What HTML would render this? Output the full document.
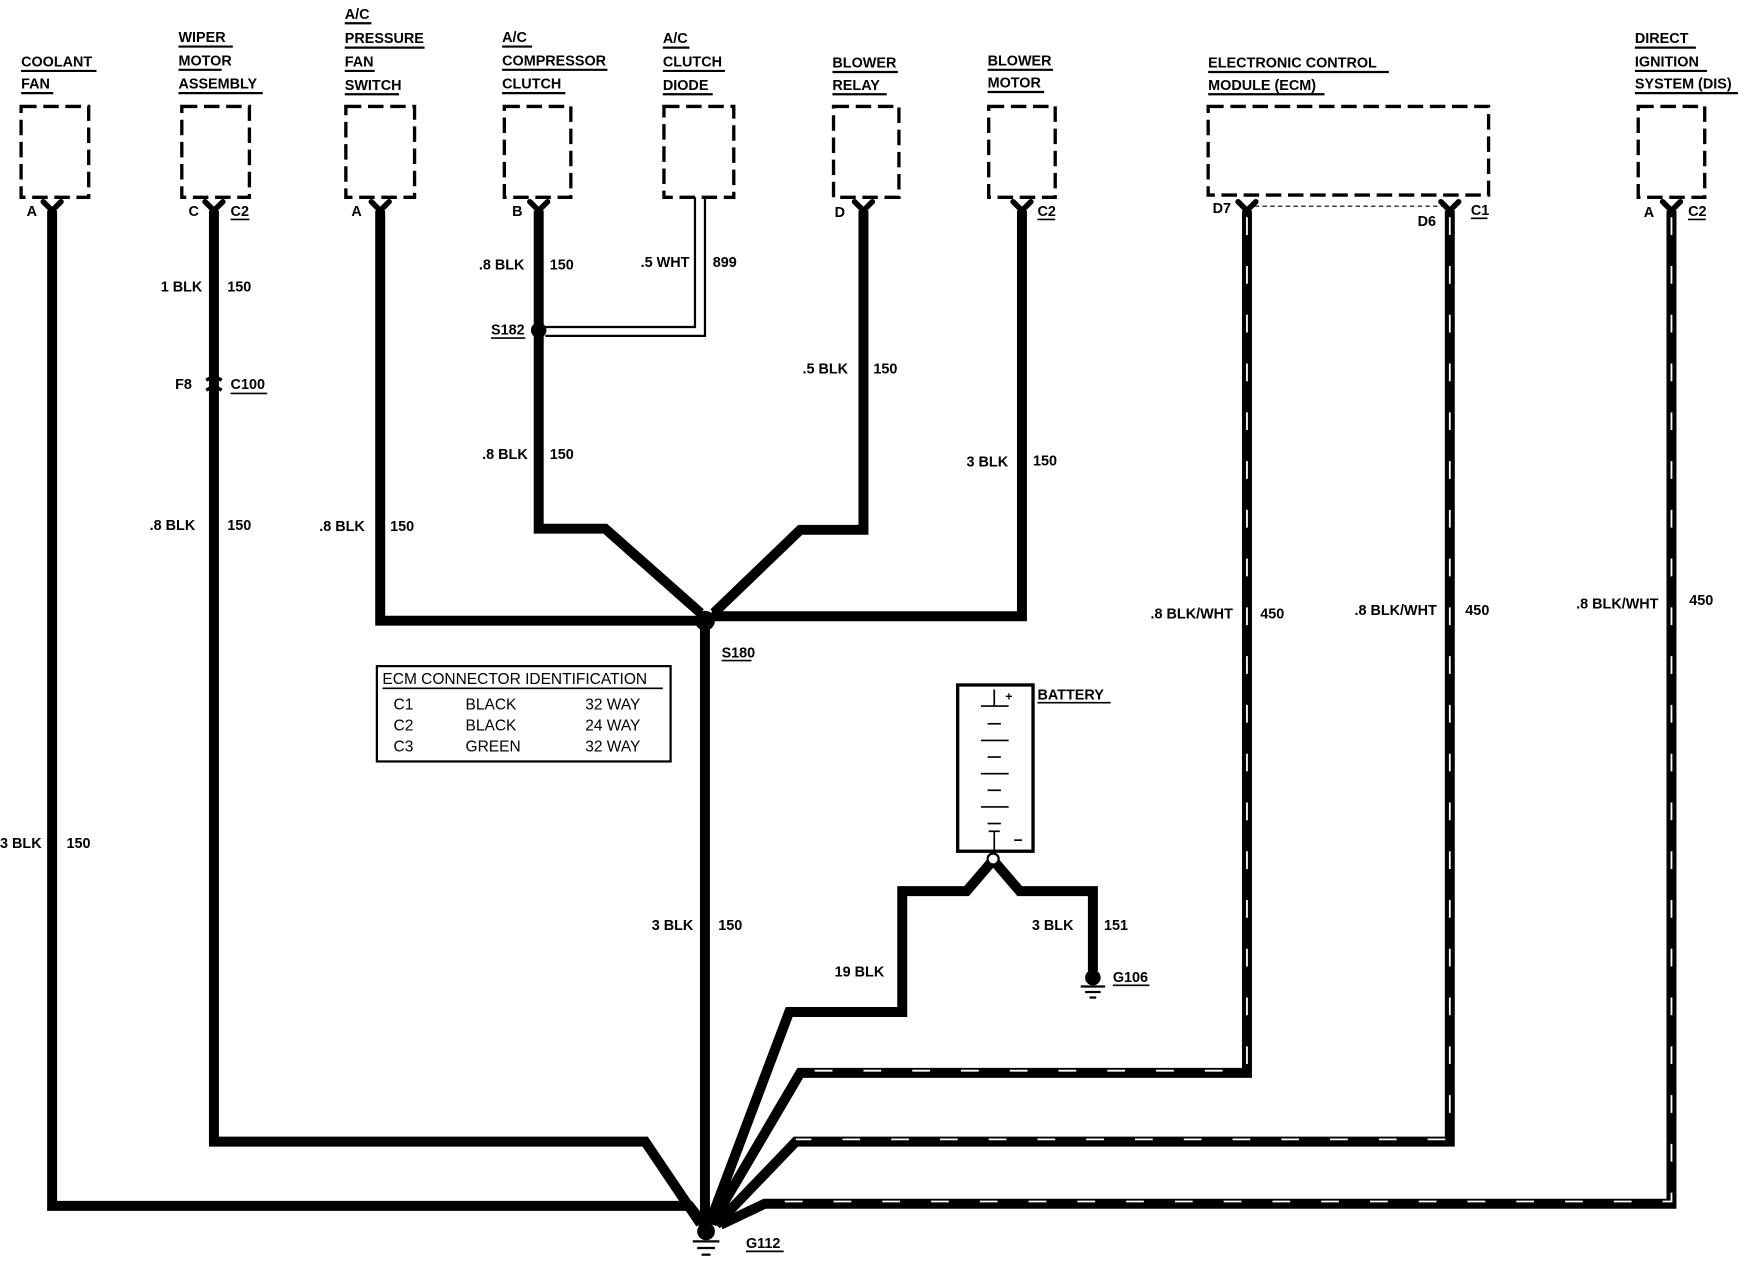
<!DOCTYPE html>
<html><head><meta charset="utf-8"><style>
html,body{margin:0;padding:0;background:#fff;}
svg{display:block;}
text{font-family:"Liberation Sans",sans-serif;font-weight:bold;font-size:13px;fill:#000;}
.n{font-weight:normal;font-size:14px;}
</style></head><body>
<svg width="1738" height="1264" viewBox="0 0 1568 1140.4" xmlns="http://www.w3.org/2000/svg">
<rect width="1568" height="1141" fill="#fff"/>
<g fill="none" stroke="#000" stroke-width="3" stroke-dasharray="14,6">
<rect x="19" y="96" width="61" height="82"/>
<rect x="164" y="96" width="61" height="82"/>
<rect x="312" y="96" width="62" height="82"/>
<rect x="455" y="96" width="60" height="82"/>
<rect x="599" y="96" width="63" height="82"/>
<rect x="752" y="96" width="59" height="82"/>
<rect x="892" y="96" width="60" height="82"/>
<rect x="1090" y="96" width="253" height="80"/>
<rect x="1478" y="96" width="60" height="82"/>
</g>
<g>
<text x="19" y="60">COOLANT</text><text x="19" y="80">FAN</text>
<text x="161" y="38">WIPER</text><text x="161" y="59">MOTOR</text><text x="161" y="80">ASSEMBLY</text>
<text x="311" y="17">A/C</text><text x="311" y="39">PRESSURE</text><text x="311" y="60">FAN</text><text x="311" y="81">SWITCH</text>
<text x="453" y="38">A/C</text><text x="453" y="59">COMPRESSOR</text><text x="453" y="80">CLUTCH</text>
<text x="598" y="39">A/C</text><text x="598" y="60">CLUTCH</text><text x="598" y="81">DIODE</text>
<text x="751" y="61">BLOWER</text><text x="751" y="81">RELAY</text>
<text x="891" y="59">BLOWER</text><text x="891" y="79">MOTOR</text>
<text x="1090" y="61">ELECTRONIC CONTROL</text><text x="1090" y="81">MODULE (ECM)</text>
<text x="1475" y="39">DIRECT</text><text x="1475" y="60">IGNITION</text><text x="1475" y="80">SYSTEM (DIS)</text>
</g>
<g stroke="#000" stroke-width="2">
<line x1="19" y1="64" x2="87" y2="64"/><line x1="19" y1="84" x2="48" y2="84"/>
<line x1="161" y1="42" x2="210" y2="42"/><line x1="161" y1="63" x2="200" y2="63"/><line x1="161" y1="84" x2="237" y2="84"/>
<line x1="311" y1="21" x2="335" y2="21"/><line x1="311" y1="43" x2="383" y2="43"/><line x1="311" y1="64" x2="338" y2="64"/><line x1="311" y1="85" x2="360" y2="85"/>
<line x1="453" y1="42" x2="480" y2="42"/><line x1="453" y1="63" x2="548" y2="63"/><line x1="453" y1="84" x2="510" y2="84"/>
<line x1="598" y1="43" x2="622" y2="43"/><line x1="598" y1="64" x2="654" y2="64"/><line x1="598" y1="85" x2="643" y2="85"/>
<line x1="751" y1="65" x2="810" y2="65"/><line x1="751" y1="85" x2="800" y2="85"/>
<line x1="891" y1="63" x2="950" y2="63"/><line x1="891" y1="83" x2="942" y2="83"/>
<line x1="1090" y1="65" x2="1253" y2="65"/><line x1="1090" y1="85" x2="1195" y2="85"/>
<line x1="1475" y1="43" x2="1530" y2="43"/><line x1="1475" y1="64" x2="1540" y2="64"/><line x1="1475" y1="84" x2="1568" y2="84"/>
</g>
<g>
<text x="24" y="195">A</text>
<text x="170" y="195">C</text><text x="208" y="195">C2</text>
<text x="317" y="195">A</text>
<text x="462" y="195">B</text>
<text x="753" y="196">D</text>
<text x="936" y="195">C2</text>
<text x="1094" y="192">D7</text><text x="1279" y="204">D6</text><text x="1327" y="194">C1</text>
<text x="1483" y="196">A</text><text x="1523" y="195">C2</text>
</g>
<g stroke="#000" stroke-width="1.5"><line x1="208" y1="198" x2="225" y2="198"/><line x1="936" y1="198" x2="952" y2="198"/><line x1="1327" y1="197" x2="1342" y2="197"/><line x1="1523" y1="198" x2="1539" y2="198"/></g>
<line x1="1132" y1="186" x2="1302" y2="186" stroke="#000" stroke-width="1" stroke-dasharray="4,3"/>
<g fill="none" stroke="#000" stroke-width="5" stroke-linecap="round">
<path d="M39,182 L47,190 L55,182"/><path d="M185,182 L193,190 L201,182"/><path d="M335,182 L343,190 L351,182"/>
<path d="M478,182 L486,190 L494,182"/><path d="M771,182 L779,190 L787,182"/><path d="M914,182 L922,190 L930,182"/>
<path d="M1117,182 L1125,190 L1133,182"/><path d="M1300,182 L1308,190 L1316,182"/><path d="M1500,182 L1508,190 L1516,182"/>
</g>
<g fill="none" stroke="#000" stroke-width="9" stroke-linejoin="miter">
<path d="M47,190 V1088 H622 L636,1106"/>
<path d="M193,190 V1030 H582 L632,1104"/>
<path d="M343,190 V560 H632"/>
<path d="M486,190 V477 H546 L632,553"/>
<path d="M779,190 V478 H722 L644,553"/>
<path d="M922,190 V556 H642"/>
<path d="M636,560 V1106"/>
<path d="M896,776 L872,804 H814 V913 H712 L640,1104"/>
<path d="M896,776 L920,804 H986 V876"/>
</g>
<g fill="none" stroke="#000" stroke-width="9">
<path d="M1125,190 V968 H722 L642,1104"/>
<path d="M1308,190 V1030 H718 L646,1105"/>
<path d="M1508,190 V1086 H690 L650,1105"/>
</g>
<g fill="none" stroke="#fff" stroke-width="1.6" stroke-dasharray="16,28">
<path d="M1125,196 V966 H722"/>
<path d="M1308,196 V1028 H718"/>
<path d="M1508,196 V1084 H690"/>
</g>
<g fill="none" stroke="#000" stroke-width="2">
<path d="M627,178 V295 H492"/><path d="M636,178 V303 H492"/>
</g>
<circle cx="486" cy="298" r="7" fill="#000"/>
<circle cx="636" cy="560" r="9" fill="#000"/>
<path d="M186,343 L193,339 L200,343 M186,352 L193,348 L200,352" stroke="#000" stroke-width="3" fill="none"/>
<text x="158" y="351">F8</text><text x="208" y="351">C100</text>
<line x1="208" y1="355" x2="241" y2="355" stroke="#000" stroke-width="1.5"/>
<g>
<text x="145" y="263">1 BLK</text><text x="205" y="263">150</text>
<text x="135" y="478">.8 BLK</text><text x="205" y="478">150</text>
<text x="0" y="765">3 BLK</text><text x="60" y="765">150</text>
<text x="288" y="479">.8 BLK</text><text x="352" y="479">150</text>
<text x="432" y="243">.8 BLK</text><text x="496" y="243">150</text>
<text x="443" y="302">S182</text>
<text x="435" y="414">.8 BLK</text><text x="496" y="414">150</text>
<text x="578" y="241">.5 WHT</text><text x="643" y="241">899</text>
<text x="724" y="337">.5 BLK</text><text x="788" y="337">150</text>
<text x="872" y="421">3 BLK</text><text x="932" y="420">150</text>
<text x="651" y="593">S180</text>
<text x="588" y="839">3 BLK</text><text x="648" y="839">150</text>
<text x="1038" y="558">.8 BLK/WHT</text><text x="1137" y="558">450</text>
<text x="1222" y="555">.8 BLK/WHT</text><text x="1322" y="555">450</text>
<text x="1422" y="549">.8 BLK/WHT</text><text x="1524" y="546">450</text>
<text x="753" y="881">19 BLK</text>
<text x="931" y="839">3 BLK</text><text x="996" y="839">151</text>
<text x="1004" y="886">G106</text>
<text x="673" y="1126">G112</text>
<text x="936" y="631">BATTERY</text>
</g>
<g stroke="#000" stroke-width="1.5">
<line x1="443" y1="305" x2="474" y2="305"/><line x1="651" y1="596" x2="678" y2="596"/>
<line x1="1004" y1="889" x2="1037" y2="889"/><line x1="673" y1="1129" x2="707" y2="1129"/>
<line x1="936" y1="634" x2="1002" y2="634"/>
</g>
<rect x="864" y="618" width="68" height="150" fill="#fff" stroke="#000" stroke-width="3"/>
<g stroke="#000" stroke-width="1.5">
<line x1="897" y1="622" x2="897" y2="637"/><line x1="885" y1="637" x2="910" y2="637"/>
<line x1="891" y1="653" x2="903" y2="653"/><line x1="885" y1="668" x2="910" y2="668"/>
<line x1="891" y1="683" x2="903" y2="683"/><line x1="885" y1="698" x2="910" y2="698"/>
<line x1="891" y1="713" x2="903" y2="713"/><line x1="885" y1="728" x2="910" y2="728"/>
<line x1="891" y1="743" x2="903" y2="743"/><line x1="897" y1="750" x2="897" y2="768"/>
<line x1="892" y1="750" x2="902" y2="750"/><line x1="915" y1="758" x2="922" y2="758"/>
</g>
<text x="907" y="632" style="font-size:11px">+</text>
<circle cx="896" cy="775" r="5" fill="#fff" stroke="#000" stroke-width="2"/>
<g stroke="#000" stroke-width="2">
<circle cx="986" cy="882" r="7" fill="#000" stroke="none"/>
<line x1="975" y1="890" x2="997" y2="890"/><line x1="979" y1="895" x2="993" y2="895"/><line x1="983" y1="900" x2="989" y2="900"/>
<circle cx="637" cy="1111" r="8" fill="#000" stroke="none"/>
<line x1="625" y1="1120" x2="649" y2="1120"/><line x1="629" y1="1126" x2="645" y2="1126"/><line x1="633" y1="1132" x2="641" y2="1132"/>
</g>
<rect x="340" y="601" width="265" height="86" fill="#fff" stroke="#000" stroke-width="2"/>
<g>
<text class="n" x="345" y="617">ECM CONNECTOR IDENTIFICATION</text>
<line x1="345" y1="621" x2="598" y2="621" stroke="#000" stroke-width="1.5"/>
<text class="n" x="355" y="640">C1</text><text class="n" x="420" y="640">BLACK</text><text class="n" x="528" y="640">32 WAY</text>
<text class="n" x="355" y="659">C2</text><text class="n" x="420" y="659">BLACK</text><text class="n" x="528" y="659">24 WAY</text>
<text class="n" x="355" y="678">C3</text><text class="n" x="420" y="678">GREEN</text><text class="n" x="528" y="678">32 WAY</text>
</g>
</svg>
</body></html>
